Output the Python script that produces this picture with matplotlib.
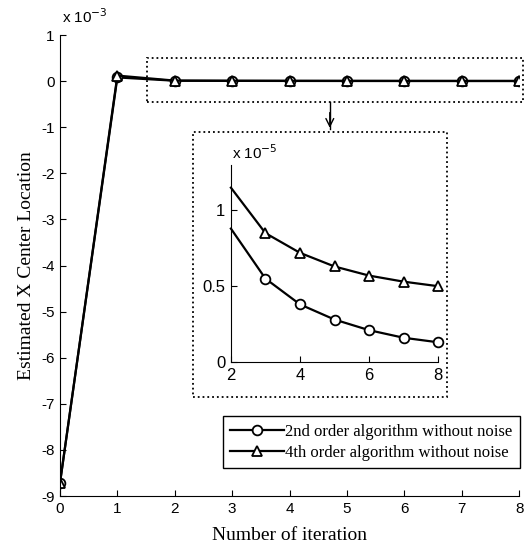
import numpy as np
import matplotlib.pyplot as plt
from matplotlib.patches import Rectangle

plt.rcParams['axes.unicode_minus'] = False

# iterations
iters = [0, 1, 2, 3, 4, 5, 6, 7, 8]

# estimated x center location (real values)
x2nd = [-8.72e-3, 0.08e-3, 0.88e-5, 0.55e-5, 0.38e-5, 0.28e-5, 0.21e-5, 0.16e-5, 0.13e-5]
x4th = [-8.72e-3, 0.12e-3, 1.15e-5, 0.85e-5, 0.72e-5, 0.63e-5, 0.57e-5, 0.53e-5, 0.50e-5]

lbl2 = '2nd order algorithm without noise'
lbl4 = '4th order algorithm without noise'

serif = 'Liberation Serif'
sans = 'Liberation Sans'


def style_axes(ax, fs):
    ax.spines['top'].set_visible(False)
    ax.spines['right'].set_visible(False)
    ax.tick_params(direction='in', labelsize=fs, length=4, width=0.8, pad=4)
    for t in ax.get_xticklabels() + ax.get_yticklabels():
        t.set_fontfamily(sans)


fig = plt.figure(figsize=(5.26, 5.49), dpi=100)
ax = fig.add_axes([0.114, 0.0965, 0.873, 0.8397])

x = np.array(iters)
y2 = np.array(x2nd) / 1e-3
y4 = np.array(x4th) / 1e-3
mk = dict(color='black', lw=1.6, markersize=7, markerfacecolor='white', markeredgewidth=1.3)
ax.plot(x, y2, marker='o', label=lbl2, **mk)
ax.plot(x, y4, marker='^', label=lbl4, **mk)
ax.set_xlim(0, 8)
ax.set_ylim(-9, 1)
ax.set_xticks(range(0, 9))
ax.set_yticks(range(-9, 2))
style_axes(ax, 11)
ax.set_xlabel('Number of iteration', fontfamily=serif, fontsize=14, labelpad=8)
ax.set_ylabel('Estimated X Center Location', fontfamily=serif, fontsize=14, labelpad=4)
fig.text(0.118, 0.958, r'x 10$^{-3}$', fontfamily=sans, fontsize=11)

# dotted box marking the zoomed region
ax.add_patch(Rectangle((1.52, -0.45), 6.55, 0.95, fill=False, ls=':', lw=1.3,
                       ec='black', clip_on=False))

leg = ax.legend(loc='upper right', bbox_to_anchor=(0.989, 0.242),
                bbox_transform=fig.transFigure, prop={'family': serif, 'size': 12},
                fancybox=False, edgecolor='black', framealpha=1,
                handlelength=3.2, borderpad=0.45, labelspacing=0.3, handletextpad=0.1,
                borderaxespad=0)
leg.get_frame().set_linewidth(1.0)

# dotted frame around inset
fig.add_artist(Rectangle((0.367, 0.277), 0.483, 0.483, fill=False, ls=':', lw=1.3,
                         ec='black', transform=fig.transFigure))
fig.add_artist(plt.Line2D([0.627, 0.627], [0.814, 0.765], color='black', lw=1.0,
                          transform=fig.transFigure))
ax.annotate('', xy=(0.627, 0.762), xytext=(0.627, 0.80), xycoords='figure fraction',
            arrowprops=dict(arrowstyle='->', color='black', lw=1.0, mutation_scale=14))

# inset
ins = fig.add_axes([0.439, 0.3406, 0.394, 0.359])
xi = x[2:]
ins.plot(xi, np.array(x2nd[2:]) / 1e-5, marker='o', markevery=range(1, len(xi)), **mk)
ins.plot(xi, np.array(x4th[2:]) / 1e-5, marker='^', markevery=range(1, len(xi)), **mk)
ins.set_xlim(2, 8)
ins.set_ylim(0, 1.3)
ins.set_xticks([2, 4, 6, 8])
ins.set_yticks([0, 0.5, 1])
ins.set_yticklabels(['0', '0.5', '1'])
style_axes(ins, 12)
for line in ins.get_lines():
    line.set_clip_on(False)
fig.text(0.441, 0.71, r'x 10$^{-5}$', fontfamily=sans, fontsize=11)

fig.savefig('out.png', dpi=100)
